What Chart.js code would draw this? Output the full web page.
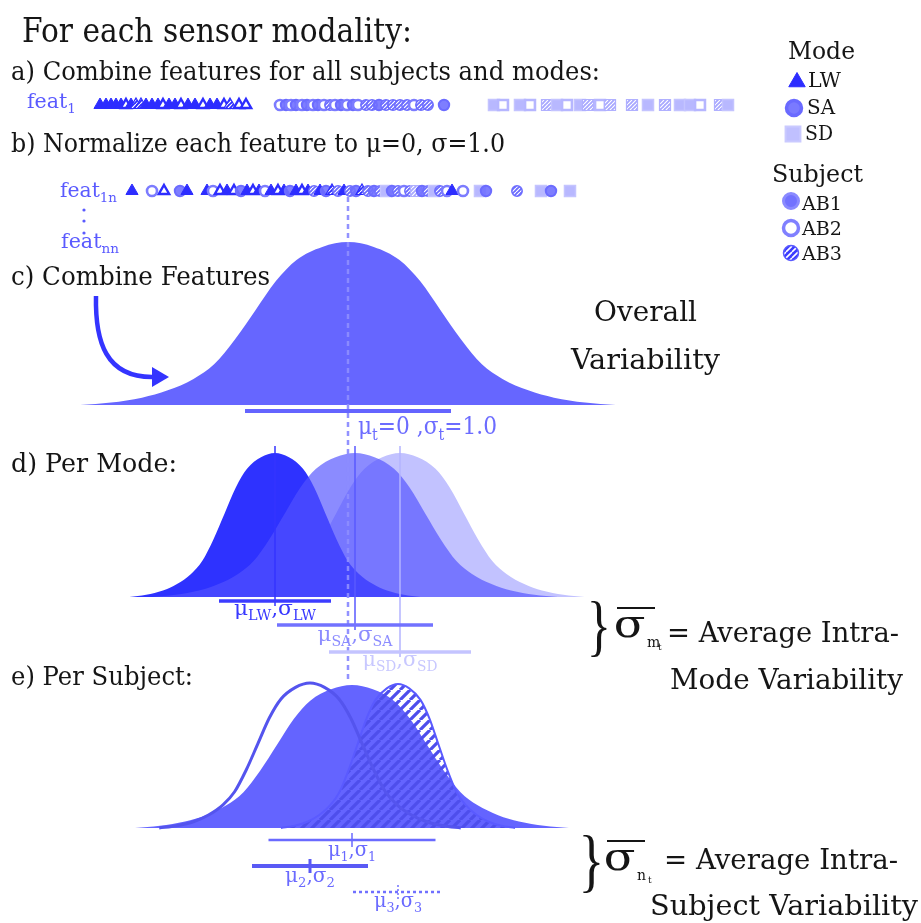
<!DOCTYPE html>
<html>
<head>
<meta charset="utf-8">
<script src="https://cdn.jsdelivr.net/npm/chart.js@4.4.1/dist/chart.umd.min.js"></script>
<style>
  html, body { margin: 0; padding: 0; background: #fff; }
</style>
</head>
<body>
<canvas id="variabilityDiagram" width="921" height="923"></canvas>
<script>
// ---- data (x in normalized feature units, 0 = overall mean) ----
// a) raw feature values per mode, with subject id of each point
const rawLW = [-2.48, -2.42, -2.37, -2.32, -2.27, -2.22, -2.17, -2.12, -2.07, -2.02, -1.96, -1.90, -1.85,
    -1.79, -1.73, -1.67, -1.60, -1.53, -1.45, -1.38, -1.31, -1.24, -1.18, -1.09, -1.02];
const rawLWSubject = [1, 1, 1, 1, 1, 2, 1, 3, 3, 1, 1, 1, 2, 1, 1, 2, 1, 1, 2, 1, 1, 2, 3, 2, 2];
const rawSA = [-0.68, -0.62, -0.57, -0.52, -0.46, -0.41, -0.35, -0.30, -0.24, -0.18, -0.13, -0.07, -0.01,
    0.05, 0.10, 0.18, 0.24, 0.31, 0.38, 0.45, 0.52, 0.59, 0.66, 0.73, 0.80, 0.96];
const rawSASubject = [2, 1, 2, 1, 2, 1, 2, 1, 2, 3, 2, 1, 2, 1, 2, 3, 3, 1, 3, 3, 3, 3, 2, 3, 3, 1];
const rawSD = [1.46, 1.55, 1.72, 1.82, 1.99, 2.09, 2.19, 2.32, 2.40, 2.52, 2.62, 2.84, 3.00, 3.17, 3.32,
    3.42, 3.52, 3.72, 3.80];
const rawSDSubject = [1, 2, 1, 2, 3, 1, 2, 1, 3, 2, 3, 3, 1, 3, 1, 1, 2, 3, 1];

// b) normalized features (all modes and subjects together)
const normValue = [-2.16, -1.96, -1.84, -1.68, -1.61, -1.41, -1.35, -1.28, -1.21, -1.14, -1.07, -1.01, -0.95,
    -0.89, -0.83, -0.77, -0.70, -0.64, -0.58, -0.52, -0.46, -0.40, -0.34, -0.28, -0.22, -0.16, -0.10, -0.04,
    0.02, 0.08, 0.14, 0.20, 0.26, 0.32, 0.38, 0.44, 0.50, 0.56, 0.62, 0.68, 0.74, 0.80, 0.86, 0.92, 0.99,
    1.04, 1.15, 1.32, 1.38, 1.69, 1.93, 2.03, 2.22];
const normMode = ['LW', 'SA', 'LW', 'SA', 'LW', 'LW', 'SA', 'LW', 'LW', 'LW', 'SA', 'LW', 'LW',
    'LW', 'SA', 'LW', 'LW', 'LW', 'SA', 'LW', 'LW', 'LW', 'SA', 'LW', 'SA', 'LW', 'SA', 'LW',
    'SA', 'SA', 'LW', 'SA', 'SA', 'SA', 'SD', 'SA', 'SA', 'SA', 'SA', 'SD', 'SA', 'SA', 'SD', 'SA', 'SA',
    'LW', 'SA', 'SD', 'SA', 'SA', 'SD', 'SA', 'SD'];
const normSubject = [1, 2, 2, 1, 1, 1, 2, 2, 1, 2, 1, 1, 2,
    1, 2, 1, 2, 1, 1, 1, 2, 1, 3, 1, 1, 3, 3, 1,
    3, 1, 3, 3, 1, 3, 1, 1, 3, 2, 3, 3, 1, 3, 1, 3, 2,
    1, 2, 1, 1, 3, 1, 1, 1];

// c) overall distribution
const overallMu = 0;
const overallSd = 1.03;
const overallPeak = 163;

// d) per mode
const modeNames = ['LW', 'SA', 'SD'];
const modeMu = [-0.73, 0.07, 0.52];
const modeSd = [0.56, 0.78, 0.71];
const modePeak = [144, 144, 144];

// e) per subject
const subjectNames = ['AB1', 'AB2', 'AB3'];
const subjectMu = [0.04, -0.38, 0.50];
const subjectSd = [0.835, 0.58, 0.45];
const subjectPeak = [143, 145, 144];

// curve shape (offset in sd, relative height)
const shapeOffset = [-2.6, -2.3, -2.0, -1.75, -1.5, -1.3, -1.1, -0.9, -0.7, -0.5, -0.25, 0,
    0.25, 0.5, 0.7, 0.9, 1.1, 1.3, 1.5, 1.75, 2.0, 2.3, 2.6];
const shapeHeight = [0, 0.015, 0.045, 0.09, 0.16, 0.25, 0.4, 0.58, 0.76, 0.89, 0.97, 1,
    0.97, 0.89, 0.76, 0.58, 0.4, 0.25, 0.16, 0.09, 0.045, 0.015, 0];

// ---- layout (vertical positions of the panels, in px from the top) ----
const rowA = 105, rowB = 191;
const baseC = 405, baseD = 597, baseE = 828;
const barC = 411;
const barsD = [601, 625, 652];
const barsE = [840, 866, 892];

const BLUE = '#5a5aff';
const INK = '#151515';
const SERIF = '"DejaVu Serif"';

function hatch(fg, bg, size, lw) {
    const c = document.createElement('canvas');
    c.width = c.height = size;
    const g = c.getContext('2d');
    if (bg) {
        g.fillStyle = bg;
        g.fillRect(0, 0, size, size);
    }
    g.strokeStyle = fg;
    g.lineWidth = lw;
    g.beginPath();
    for (let k = -1; k <= 1; k++) {
        g.moveTo(k * size, size);
        g.lineTo(k * size + size, 0);
    }
    g.stroke();
    return g.createPattern(c, 'repeat');
}

const hatchLW = hatch('#ffffff', '#2d2dff', 4, 1.2);
const hatchSA = hatch('#ffffff', '#6a6aff', 4, 1.2);
const hatchSD = hatch('#ffffff', '#a8a8ff', 4, 1.2);
const hatchLegend = hatch('#ffffff', '#3c3cff', 6, 1.6);
const hatchCurve = hatch('rgb(78,78,236)', null, 10, 3.2);

function markerStyle(mode, subject) {
    if (mode === 'LW') {
        if (subject === 1) return { shape: 'triangle', r: 7, bg: '#2d2dff', bd: '#2d2dff', bw: 1 };
        if (subject === 2) return { shape: 'triangle', r: 6, bg: '#ffffff', bd: '#2d2dff', bw: 2.4 };
        return { shape: 'triangle', r: 7, bg: hatchLW, bd: '#2d2dff', bw: 1.2 };
    }
    if (mode === 'SA') {
        if (subject === 1) return { shape: 'circle', r: 5.2, bg: 'rgba(112,112,255,0.9)', bd: '#6c6cff', bw: 2 };
        if (subject === 2) return { shape: 'circle', r: 5, bg: '#ffffff', bd: '#7c7cff', bw: 2.6 };
        return { shape: 'circle', r: 5.2, bg: hatchSA, bd: '#6c6cff', bw: 1.5 };
    }
    if (subject === 1) return { shape: 'rect', r: 7.8, bg: '#b8b8ff', bd: '#c4c4ff', bw: 1.5 };
    if (subject === 2) return { shape: 'rect', r: 7, bg: '#ffffff', bd: '#b6b6ff', bw: 2.6 };
    return { shape: 'rect', r: 7.8, bg: hatchSD, bd: '#b0b0ff', bw: 1.2 };
}

function markerDataset(xs, y, modes, subjects) {
    const st = xs.map((v, i) => markerStyle(modes[i], subjects[i]));
    return {
        type: 'scatter',
        data: xs.map(v => ({ x: v, y: y })),
        pointStyle: st.map(s => s.shape),
        pointRadius: st.map(s => s.r),
        pointBackgroundColor: st.map(s => s.bg),
        pointBorderColor: st.map(s => s.bd),
        pointBorderWidth: st.map(s => s.bw),
        order: 1,
    };
}

function curvePoints(mu, sd, peak, base) {
    return shapeOffset.map((o, i) => ({ x: mu + o * sd, y: base - shapeHeight[i] * peak }));
}

function curve(mu, sd, peak, base, fillColor, opts) {
    return Object.assign({
        type: 'line',
        data: curvePoints(mu, sd, peak, base),
        cubicInterpolationMode: 'monotone',
        pointRadius: 0,
        borderWidth: 0,
        borderColor: 'rgba(0,0,0,0)',
        backgroundColor: fillColor,
        fill: fillColor ? { value: base } : false,
    }, opts || {});
}

function seg(x1, y1, x2, y2, color, width, dash, order) {
    return {
        type: 'line',
        data: [{ x: x1, y: y1 }, { x: x2, y: y2 }],
        borderColor: color,
        borderWidth: width,
        borderDash: dash || [],
        pointRadius: 0,
        fill: false,
        order: order,
    };
}

const modeColors = ['#3c3cff', '#7272ff', '#c4c4ff'];
const modeLineColors = ['#3535ff', '#5a5aff', '#b4b4ff'];
const subjectBarColors = ['#6a6aff', '#5a5af5', '#7070ff'];

const datasets = [
    // c) overall
    curve(overallMu, overallSd, overallPeak, baseC, '#6666ff', { order: 50 }),
    // d) per mode
    curve(modeMu[2], modeSd[2], modePeak[2], baseD, '#c2c2ff', { order: 42 }),
    curve(modeMu[0], modeSd[0], modePeak[0], baseD, '#2e32ff', { order: 41 }),
    curve(modeMu[1], modeSd[1], modePeak[1], baseD, 'rgba(82,82,255,0.67)', { order: 40 }),
    // e) per subject
    curve(subjectMu[0], subjectSd[0], subjectPeak[0], baseE, '#6464ff', { order: 32 }),
    curve(subjectMu[2], subjectSd[2], subjectPeak[2], baseE, hatchCurve,
        { order: 31, borderWidth: 2, borderColor: '#5a5aff' }),
    curve(subjectMu[1], subjectSd[1], subjectPeak[1], baseE, null,
        { order: 30, borderWidth: 3, borderColor: 'rgb(84,84,238)' }),
    // overall mean
    seg(overallMu, 197, overallMu, 683, 'rgba(140,140,255,0.95)', 2.5, [5, 4], 5),
    // sigma bars
    seg(overallMu - overallSd, barC, overallMu + overallSd, barC, '#6464ff', 4, null, 3),
];

modeNames.forEach((m, i) => {
    datasets.push(seg(modeMu[i], 446, modeMu[i], barsD[i] + 5, modeLineColors[i], 1.5, null, 4));
    datasets.push(seg(modeMu[i] - modeSd[i], barsD[i], modeMu[i] + modeSd[i], barsD[i], modeColors[i], 3.5, null, 3));
});

subjectNames.forEach((s, i) => {
    const dash = i === 2 ? [3, 3] : null;
    const w = i === 1 ? 4 : 2.5;
    datasets.push(seg(subjectMu[i] - subjectSd[i], barsE[i], subjectMu[i] + subjectSd[i], barsE[i], subjectBarColors[i], w, dash, 3));
    datasets.push(seg(subjectMu[i], barsE[i] - 7, subjectMu[i], barsE[i] + 7, subjectBarColors[i], i === 1 ? 3 : 1.5, i === 2 ? [2, 2] : null, 3));
});

// marker rows
datasets.push(markerDataset(rawLW, rowA, rawLW.map(() => 'LW'), rawLWSubject));
datasets.push(markerDataset(rawSA, rowA, rawSA.map(() => 'SA'), rawSASubject));
datasets.push(markerDataset(rawSD, rowA, rawSD.map(() => 'SD'), rawSDSubject));
datasets.push(markerDataset(normValue, rowB, normMode, normSubject));

// legend symbols
const legendX = [4.49, 4.46, 4.45, 4.43, 4.43, 4.43];
const legendY = [82, 108, 134, 201, 228, 253];
datasets.push({
    type: 'scatter',
    data: legendX.map((v, i) => ({ x: v, y: legendY[i] })),
    pointStyle: ['triangle', 'circle', 'rect', 'circle', 'circle', 'circle'],
    pointRadius: [9.5, 7.5, 10.5, 7.5, 7.5, 7.5],
    pointBackgroundColor: ['#2d2dff', '#7a7aff', '#c0c0ff', '#7272ff', '#ffffff', hatchLegend],
    pointBorderColor: ['#2d2dff', '#6a6aff', '#cacaff', '#8a8aff', '#8080ff', '#5a5aff'],
    pointBorderWidth: [1, 3.5, 2, 3, 3.5, 1.5],
    order: 1,
});

// ---- texts ----
const texts = [
    { s: [['For each sensor modality:', 0]], x: 22, y: 42, size: 33, w: 390 },
    { s: [['a) Combine features for all subjects and modes:', 0]], x: 11, y: 80, size: 25.5, w: 589 },
    { s: [['b) Normalize each feature to μ=0, σ=1.0', 0]], x: 11, y: 152, size: 25.5, w: 494 },
    { s: [['Mode', 0]], x: 788, y: 59, size: 24, w: 67 },
    { s: [['LW', 0]], x: 808, y: 87, size: 20, w: 33 },
    { s: [['SA', 0]], x: 807, y: 114, size: 20, w: 28 },
    { s: [['SD', 0]], x: 805, y: 140, size: 20, w: 28 },
    { s: [['Subject', 0]], x: 772, y: 182, size: 24, w: 91 },
    { s: [['AB1', 0]], x: 802, y: 210, size: 19, w: 40 },
    { s: [['AB2', 0]], x: 802, y: 235, size: 19, w: 40 },
    { s: [['AB3', 0]], x: 802, y: 260, size: 19, w: 40 },
    { s: [['c) Combine Features', 0]], x: 11, y: 285, size: 25.5, w: 259 },
    { s: [['Overall', 0]], x: 594, y: 321, size: 28.5, w: 103 },
    { s: [['Variability', 0]], x: 571, y: 369, size: 28.5, w: 149 },
    { s: [['d) Per Mode:', 0]], x: 11, y: 472, size: 25.5, w: 166 },
    { s: [['e) Per Subject:', 0]], x: 11, y: 685, size: 25.5, w: 182 },
    { s: [['= Average Intra-', 0]], x: 667, y: 642, size: 28, w: 232 },
    { s: [['Mode Variability', 0]], x: 670, y: 689, size: 28.5, w: 233 },
    { s: [['= Average Intra-', 0]], x: 664, y: 869, size: 28, w: 234 },
    { s: [['Subject Variability', 0]], x: 650, y: 915, size: 28.5, w: 268 },
    { s: [['feat', 0], ['1', 1]], x: 27, y: 108, size: 20, w: 49, c: BLUE },
    { s: [['feat', 0], ['1n', 1]], x: 60, y: 197, size: 20, w: 57, c: BLUE },
    { s: [['feat', 0], ['nn', 1]], x: 61, y: 248, size: 20, w: 58, c: BLUE },
    { s: [['μ', 0], ['t', 1], ['=0 ,σ', 0], ['t', 1], ['=1.0', 0]], x: 358, y: 434, size: 24, w: 139, c: '#6c6cff' },
    { s: [['μ', 0], ['LW', 1], [',σ', 0], ['LW', 1]], cx: modeMu[0], y: 615, size: 21, w: 82, c: '#3838ff' },
    { s: [['μ', 0], ['SA', 1], [',σ', 0], ['SA', 1]], cx: modeMu[1], y: 641, size: 21, w: 75, c: '#8c8cff' },
    { s: [['μ', 0], ['SD', 1], [',σ', 0], ['SD', 1]], cx: modeMu[2], y: 666, size: 21, w: 75, c: '#c8c8ff' },
    { s: [['μ', 0], ['1', 1], [',σ', 0], ['1', 1]], cx: subjectMu[0], y: 856, size: 20, w: 48, c: '#6a6aff' },
    { s: [['μ', 0], ['2', 1], [',σ', 0], ['2', 1]], cx: subjectMu[1], y: 882, size: 20, w: 50, c: '#6a6aff' },
    { s: [['μ', 0], ['3', 1], [',σ', 0], ['3', 1]], cx: subjectMu[2], y: 907, size: 20, w: 48, c: '#6a6aff' },
];

function partFont(size, lvl) {
    const f = lvl === 1 ? size * 0.66 : lvl === 2 ? size * 0.45 : size;
    return f.toFixed(1) + 'px ' + SERIF;
}

function drawRich(ctx, item, xScale) {
    let natural = 0;
    item.s.forEach(([t, lvl]) => {
        ctx.font = partFont(item.size, lvl);
        natural += ctx.measureText(t).width;
    });
    const sx = item.w ? item.w / natural : 1;
    const width = natural * sx;
    const x0 = item.cx !== undefined ? xScale.getPixelForValue(item.cx) - width / 2 : item.x;
    ctx.save();
    ctx.translate(x0, item.y);
    ctx.scale(sx, 1);
    ctx.fillStyle = item.c || INK;
    ctx.textBaseline = 'alphabetic';
    ctx.textAlign = 'left';
    let x = 0;
    item.s.forEach(([t, lvl]) => {
        ctx.font = partFont(item.size, lvl);
        ctx.fillText(t, x, lvl ? item.size * 0.24 : 0);
        x += ctx.measureText(t).width;
    });
    ctx.restore();
}

function glyphBox(ctx, ch, font, x1, y1, x2, y2, color) {
    ctx.font = font;
    const m = ctx.measureText(ch);
    const gw = m.actualBoundingBoxLeft + m.actualBoundingBoxRight;
    const gh = m.actualBoundingBoxAscent + m.actualBoundingBoxDescent;
    const sx = (x2 - x1) / gw, sy = (y2 - y1) / gh;
    ctx.save();
    ctx.translate(x1 + m.actualBoundingBoxLeft * sx, y1 + m.actualBoundingBoxAscent * sy);
    ctx.scale(sx, sy);
    ctx.fillStyle = color;
    ctx.textBaseline = 'alphabetic';
    ctx.textAlign = 'left';
    ctx.fillText(ch, 0, 0);
    ctx.restore();
}

function sigmaBar(ctx, x, y, sub) {
    // σ with overline and double subscript
    glyphBox(ctx, 'σ', '40px ' + SERIF, x, y, x + 29, y + 21, INK);
    ctx.strokeStyle = INK;
    ctx.lineWidth = 2;
    ctx.beginPath();
    ctx.moveTo(x + 1, y - 9);
    ctx.lineTo(x + 39, y - 9);
    ctx.stroke();
    ctx.fillStyle = INK;
    ctx.font = '14px ' + SERIF;
    ctx.fillText(sub, x + 31, y + 30);
    ctx.font = '9px ' + SERIF;
    ctx.fillText('t', x + 42, y + 33);
}

const diagramText = {
    id: 'diagramText',
    afterDraw(chart) {
        const ctx = chart.ctx;
        const xScale = chart.scales.x;
        texts.forEach(t => drawRich(ctx, t, xScale));

        // vertical ellipsis between feature rows
        ctx.fillStyle = BLUE;
        [210, 221, 233].forEach(y => {
            ctx.beginPath();
            ctx.arc(84, y, 1.6, 0, Math.PI * 2);
            ctx.fill();
        });

        // arrow into the combined distribution
        ctx.strokeStyle = '#3434ff';
        ctx.fillStyle = '#3434ff';
        ctx.lineWidth = 4.5;
        ctx.beginPath();
        ctx.moveTo(96, 296);
        ctx.bezierCurveTo(95, 342, 106, 377, 152, 377);
        ctx.stroke();
        ctx.beginPath();
        ctx.moveTo(169, 377);
        ctx.lineTo(152, 367);
        ctx.lineTo(152, 387);
        ctx.closePath();
        ctx.fill();

        // braces and averaged sigma
        glyphBox(ctx, '}', '60px "Liberation Serif"', 591, 600, 607, 658, INK);
        sigmaBar(ctx, 616, 617, 'm');
        glyphBox(ctx, '}', '60px "Liberation Serif"', 583, 835, 600, 894, INK);
        sigmaBar(ctx, 606, 850, 'n');
    },
};

new Chart(document.getElementById('variabilityDiagram'), {
    type: 'scatter',
    data: { datasets: datasets },
    options: {
        responsive: false,
        animation: false,
        events: [],
        layout: { padding: 0, autoPadding: false },
        plugins: {
            legend: { display: false },
            tooltip: { enabled: false },
        },
        scales: {
            x: { type: 'linear', min: -3.48, max: 5.73, display: false },
            y: { type: 'linear', min: 0, max: 923, reverse: true, display: false },
        },
    },
    plugins: [diagramText],
});
</script>
</body>
</html>
